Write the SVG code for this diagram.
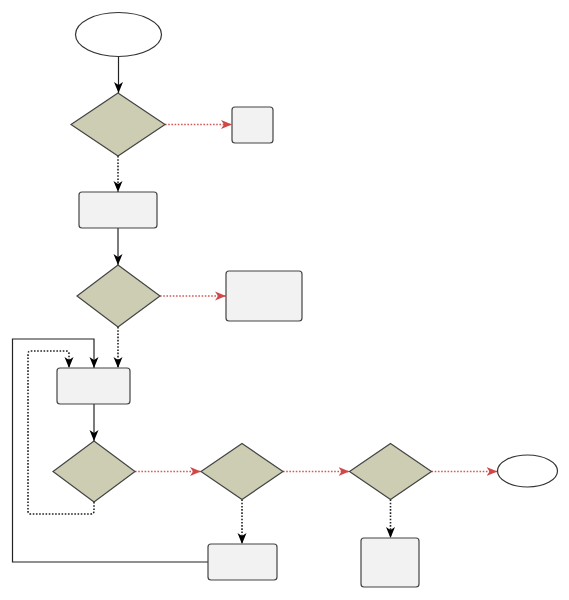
<svg xmlns="http://www.w3.org/2000/svg" width="569" height="600" viewBox="0 0 569 600">
<style>
.term{fill:#ffffff;stroke:#333333;stroke-width:1.2}
.dec{fill:#cccdb2;stroke:#444444;stroke-width:1.2}
.box{fill:#f2f2f2;stroke:#444444;stroke-width:1.2}
.solid{fill:none;stroke:#222222;stroke-width:1.2}
.dot{fill:none;stroke:#222222;stroke-width:1.6;stroke-dasharray:1.6 1.6}
.red{fill:none;stroke:#d65a5a;stroke-width:1.6;stroke-dasharray:1.6 1.6}
</style>
<defs>
<marker id="ab" markerUnits="userSpaceOnUse" markerWidth="12" markerHeight="12" viewBox="0 0 12 12" refX="11" refY="6" orient="auto">
<path d="M0,1.5 L11,6 L0,10.5 L3,6 Z" fill="#000000"/>
</marker>
<marker id="ar" markerUnits="userSpaceOnUse" markerWidth="12" markerHeight="12" viewBox="0 0 12 12" refX="11" refY="6" orient="auto">
<path d="M0,1.5 L11,6 L0,10.5 L3,6 Z" fill="#d04848"/>
</marker>
</defs>
<rect width="569" height="600" fill="#ffffff"/>
<g id="connectors">
<path class="solid" d="M118.5,57 L118.5,93" marker-end="url(#ab)"/>
<path class="red" d="M165,124.5 L232,124.5" marker-end="url(#ar)"/>
<path class="dot" d="M118,156 L118,192" marker-end="url(#ab)"/>
<path class="solid" d="M118,228 L118,265" marker-end="url(#ab)"/>
<path class="red" d="M160,296 L226,296" marker-end="url(#ar)"/>
<path class="dot" d="M118,327 L118,368" marker-end="url(#ab)"/>
<path class="solid" d="M94,404 L94,441" marker-end="url(#ab)"/>
<path class="red" d="M135,471.5 L201,471.5" marker-end="url(#ar)"/>
<path class="red" d="M283,471.5 L349.5,471.5" marker-end="url(#ar)"/>
<path class="red" d="M431.5,471.5 L497.5,471.5" marker-end="url(#ar)"/>
<path class="dot" d="M242,499.5 L242,544" marker-end="url(#ab)"/>
<path class="dot" d="M390.5,499.5 L390.5,538" marker-end="url(#ab)"/>
<path class="dot" d="M94,502 L94,511 Q94,514 91,514 L31,514 Q28,514 28,511 L28,354 Q28,351 31,351 L66,351 Q69,351 69,354 L69,368" marker-end="url(#ab)"/>
<path class="solid" d="M208,562 L12.5,562 L12.5,339 L94,339 L94,368" marker-end="url(#ab)"/>
</g>
<g id="start"><ellipse class="term" cx="118.5" cy="34.5" rx="43" ry="22"/></g>
<g id="d1"><polygon class="dec" points="118,93 165,124.5 118,156 71,124.5"/></g>
<g id="b1"><rect class="box" x="232" y="107" width="41" height="36" rx="3"/></g>
<g id="b2"><rect class="box" x="79" y="192" width="78" height="36" rx="3"/></g>
<g id="d2"><polygon class="dec" points="118,265 160,296 118,327 77,296"/></g>
<g id="b3"><rect class="box" x="226" y="271" width="76" height="50" rx="3"/></g>
<g id="b4"><rect class="box" x="57" y="368" width="73" height="36" rx="3"/></g>
<g id="d3"><polygon class="dec" points="94,441 135,471.5 94,502 53,471.5"/></g>
<g id="d4"><polygon class="dec" points="242,443.5 283,471.5 242,499.5 201,471.5"/></g>
<g id="d5"><polygon class="dec" points="390.5,443.5 431.5,471.5 390.5,499.5 349.5,471.5"/></g>
<g id="end"><ellipse class="term" cx="527.5" cy="471" rx="30" ry="16"/></g>
<g id="b5"><rect class="box" x="208" y="544" width="69" height="36" rx="3"/></g>
<g id="b6"><rect class="box" x="361" y="538" width="58" height="49" rx="3"/></g>
</svg>
